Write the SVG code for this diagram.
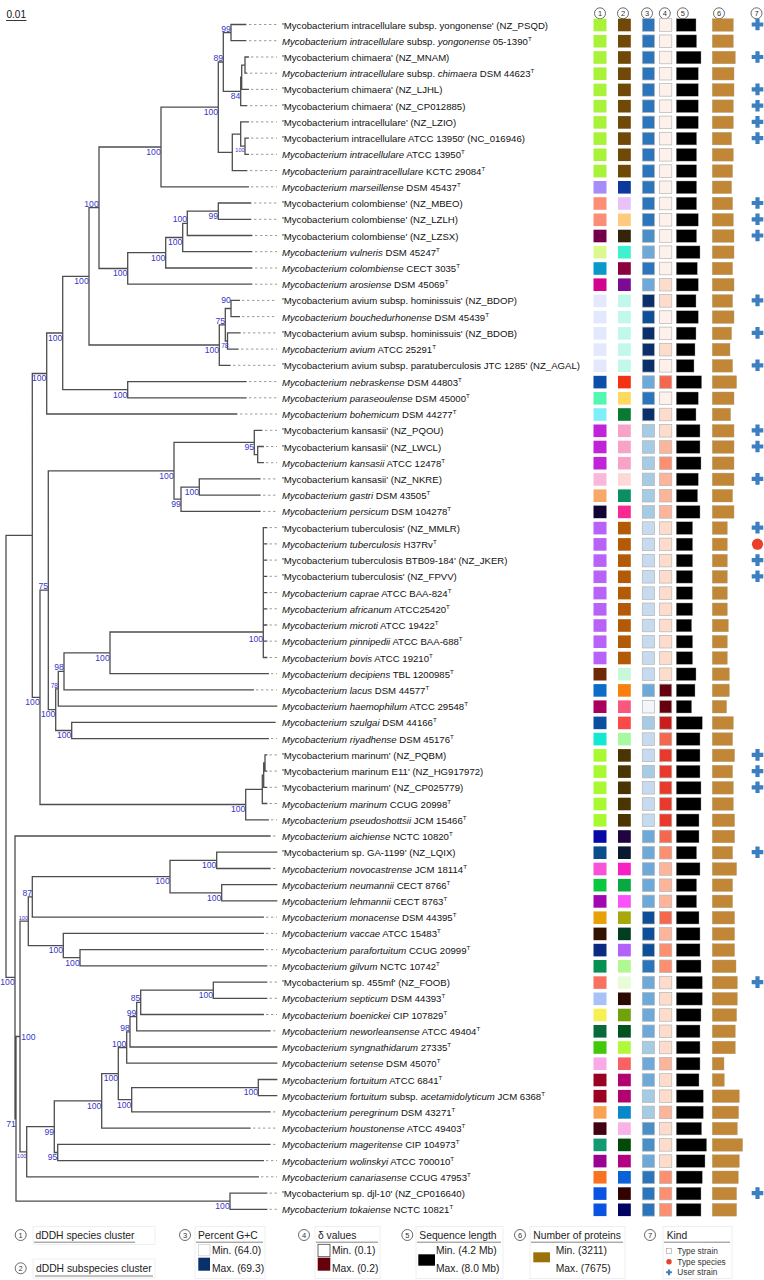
<svg xmlns="http://www.w3.org/2000/svg" xmlns:xlink="http://www.w3.org/1999/xlink" width="764" height="1280" viewBox="0 0 764 1280">
<style>
.t{font-family:"Liberation Sans",Arial,sans-serif;font-size:9.6px;fill:#111}
.i{font-style:italic}
.u{font-size:6.2px}
.d{stroke:#9a9a9a;stroke-width:1;stroke-dasharray:2.4 2.6}
.tr{fill:none;stroke:#4d4d4d;stroke-width:1.3;stroke-linecap:square}
.bs{font-family:"Liberation Sans",Arial,sans-serif;font-size:8.6px;fill:#3636c8;text-anchor:end}
.sm{font-size:5.6px}
.md{font-size:6.6px}
.c{stroke:#b4b4b4;stroke-width:0.7}
.k{fill:#000;stroke:#999;stroke-width:0.4}
.p{fill:#c18636;stroke:#b0a080;stroke-width:0.4}
.nc{fill:#fff;stroke:#444;stroke-width:0.8}
.nt{font-family:"Liberation Sans",Arial,sans-serif;font-size:7.5px;fill:#333;text-anchor:middle}
.lg{font-family:"Liberation Sans",Arial,sans-serif;font-size:10.3px;fill:#222}
.ls{font-family:"Liberation Sans",Arial,sans-serif;font-size:8.3px;fill:#333}
.lb{fill:none;stroke:#ececec;stroke-width:0.8}
.ul{stroke:#777;stroke-width:0.9}
</style>
<defs>
<path id="plus" d="M-2.1,-5.8h4.2v3.7h3.7v4.2h-3.7v3.7h-4.2v-3.7h-3.7v-4.2h3.7z" fill="#3b7fc1"/>
</defs>
<rect width="764" height="1280" fill="#fff"/>
<g id="scale"><text class="t" x="6.5" y="18.2" style="font-size:10px">0.01</text><line x1="6" y1="20.5" x2="26.5" y2="20.5" stroke="#222" stroke-width="0.9"/></g>
<g id="headers">
<circle class="nc" cx="600" cy="13.3" r="5.5"/><text class="nt" x="600" y="16">1</text>
<circle class="nc" cx="623" cy="13.3" r="5.5"/><text class="nt" x="623" y="16">2</text>
<circle class="nc" cx="647" cy="13.3" r="5.5"/><text class="nt" x="647" y="16">3</text>
<circle class="nc" cx="664.8" cy="13.3" r="5.5"/><text class="nt" x="664.8" y="16">4</text>
<circle class="nc" cx="682.8" cy="13.3" r="5.5"/><text class="nt" x="682.8" y="16">5</text>
<circle class="nc" cx="719" cy="13.3" r="5.5"/><text class="nt" x="719" y="16">6</text>
<circle class="nc" cx="756.5" cy="13.3" r="5.5"/><text class="nt" x="756.5" y="16">7</text>
</g>
<g id="connectors">
<path class="tr" d="M231,24.5V40.7M231,24.5H245.7M231,40.7H245.7
M245,57V73.2M245,57H248.3M245,73.2H246.7
M241.7,65.1V89.4M241.7,65.1H245M241.7,89.4H248.3
M240.7,77.2V105.7M240.7,77.2H241.7M240.7,105.7H246.7
M223.3,32.6V91.4M223.3,32.6H231M223.3,91.4H240.7
M245,138.1V154.3M245,138.1H248.3M245,154.3H248.3
M240.7,121.9V146.2M240.7,121.9H248.3M240.7,146.2H245
M232.3,134.1V170.6M232.3,134.1H240.7M232.3,170.6H246.7
M218.3,62V152.3M218.3,62H223.3M218.3,152.3H232.3
M161,107.2V186.8M161,107.2H218.3M161,186.8H248.3
M218.3,203V219.3M218.3,203H250.7M218.3,219.3H250.7
M187.3,211.1V235.5M187.3,211.1H218.3M187.3,235.5H251.7
M182.7,223.3V251.7M182.7,223.3H187.3M182.7,251.7H251.7
M165.7,237.5V268M165.7,237.5H182.7M165.7,268H251.7
M127.7,252.7V284.2M127.7,252.7H165.7M127.7,284.2H251.7
M99,147V268.5M99,147H161M99,268.5H127.7
M231,300.4V316.6M231,300.4H239.3M231,316.6H239.3
M227.5,332.9V349.1M227.5,332.9H240M227.5,349.1H238
M225.3,308.5V341M225.3,308.5H231M225.3,341H227.5
M219.3,324.8V365.3M219.3,324.8H225.3M219.3,365.3H230
M89,207.7V345M89,207.7H99M89,345H219.3
M127.7,381.6V397.8M127.7,381.6H246M127.7,397.8H246
M62.7,276.4V389.7M62.7,276.4H89M62.7,389.7H127.7
M46.7,333V414M46.7,333H62.7M46.7,414H236.7
M257.7,446.5V462.7M257.7,446.5H263.3M257.7,462.7H263.3
M254.3,430.3V454.6M254.3,430.3H261.7M254.3,454.6H257.7
M199.3,478.9V495.2M199.3,478.9H260M199.3,495.2H260
M181,487.1V511.4M181,487.1H199.3M181,511.4H260
M174,442.4V499.2M174,442.4H254.3M174,499.2H181
M263.3,527.6V657.5M263.3,527.6H266.7M263.3,543.9H266.7M263.3,560.1H266.7M263.3,576.3H266.7M263.3,592.6H266.7M263.3,608.8H266.7M263.3,625H266.7M263.3,641.2H266.7M263.3,657.5H266.7
M110,632V673.7M110,632H263.3M110,673.7H268.3
M64,652.9V689.9M64,652.9H110M64,689.9H253.3
M58.3,671.4V706.2M58.3,671.4H64M58.3,706.2H276.7
M71.7,722.4V738.6M71.7,722.4H275M71.7,738.6H268.3
M55.7,688.8V730.5M55.7,688.8H58.3M55.7,730.5H71.7
M48.3,470.8V709.6M48.3,470.8H174M48.3,709.6H55.7
M265,754.9V771.1M265,754.9H266.7M265,771.1H266.7
M263.7,763V787.3M263.7,763H265M263.7,787.3H266.7
M262.3,775.1V803.5M262.3,775.1H263.7M262.3,803.5H266.7
M245.7,789.3V819.8M245.7,789.3H262.3M245.7,819.8H268.3
M40,590.2V804.5M40,590.2H48.3M40,804.5H245.7
M32.3,373.5V697.4M32.3,373.5H46.7M32.3,697.4H40
M216.7,852.2V868.5M216.7,852.2H276.7M216.7,868.5H270
M221.7,884.7V900.9M221.7,884.7H276.7M221.7,900.9H276.7
M170,860.3V892.8M170,860.3H216.7M170,892.8H221.7
M32.3,876.6V917.2M32.3,876.6H170M32.3,917.2H263.3
M80,949.6V965.8M80,949.6H263.3M80,965.8H266.7
M63.3,933.4V957.7M63.3,933.4H263.3M63.3,957.7H80
M28.3,896.9V945.6M28.3,896.9H32.3M28.3,945.6H63.3
M213.3,982.1V998.3M213.3,982.1H266.7M213.3,998.3H266.7
M140.7,990.2V1014.5M140.7,990.2H213.3M140.7,1014.5H263.3
M136.7,1002.4V1030.8M136.7,1002.4H140.7M136.7,1030.8H270
M130,1016.6V1047M130,1016.6H136.7M130,1047H276.7
M126.7,1031.8V1063.2M126.7,1031.8H130M126.7,1063.2H276.7
M258.3,1079.5V1095.7M258.3,1079.5H276.7M258.3,1095.7H276.7
M131.7,1087.6V1111.9M131.7,1087.6H258.3M131.7,1111.9H270
M118.3,1047.5V1099.7M118.3,1047.5H126.7M118.3,1099.7H131.7
M101.7,1073.6V1128.1M101.7,1073.6H118.3M101.7,1128.1H250
M57.7,1144.4V1160.6M57.7,1144.4H270M57.7,1160.6H263.3
M54.3,1100.9V1152.5M54.3,1100.9H101.7M54.3,1152.5H57.7
M26.7,1126.7V1176.8M26.7,1126.7H54.3M26.7,1176.8H258.3
M20,921.2V1151.8M20,921.2H28.3M20,1151.8H26.7
M230,1193.1V1209.3M230,1193.1H266.7M230,1209.3H266.7
M16,1036.5V1201.2M16,1036.5H20M16,1201.2H230
M15,836V1118.9M15,836H270M15,1118.9H16
M6,535.4V977.4M6,535.4H32.3M6,977.4H15"/>
</g>
<g id="bootstrap">
<text class="bs" x="230.7" y="31.6">99</text>
<text class="bs" x="223" y="61">89</text>
<text class="bs" x="218" y="115">100</text>
<text class="bs" x="240.4" y="99.2">84</text>
<text class="bs sm" x="244.7" y="152.2">100</text>
<text class="bs" x="160.7" y="154.8">100</text>
<text class="bs" x="98.7" y="206.7">100</text>
<text class="bs" x="218" y="218.9">99</text>
<text class="bs" x="187" y="222.3">100</text>
<text class="bs" x="182.4" y="245.3">100</text>
<text class="bs" x="165.4" y="260.5">100</text>
<text class="bs" x="127.4" y="276.3">100</text>
<text class="bs" x="88.7" y="284.2">100</text>
<text class="bs" x="230.7" y="303">90</text>
<text class="bs" x="225" y="323.8">75</text>
<text class="bs md" x="228.5" y="347.5">78</text>
<text class="bs" x="219" y="352.8">100</text>
<text class="bs" x="62.4" y="340.8">100</text>
<text class="bs" x="127.4" y="397.5">100</text>
<text class="bs" x="46.4" y="381.3">100</text>
<text class="bs" x="254" y="450.2">95</text>
<text class="bs" x="199" y="494.9">100</text>
<text class="bs" x="180.7" y="507">99</text>
<text class="bs" x="173.7" y="478.6">100</text>
<text class="bs" x="48" y="589.2">75</text>
<text class="bs" x="263" y="642">100</text>
<text class="bs" x="109.7" y="660.7">100</text>
<text class="bs" x="63.7" y="670.4">98</text>
<text class="bs md" x="58" y="687.8">78</text>
<text class="bs" x="39.7" y="705.2">100</text>
<text class="bs" x="55.4" y="717.4">100</text>
<text class="bs" x="71.4" y="738.3">100</text>
<text class="bs" x="245.4" y="812.3">100</text>
<text class="bs" x="216.4" y="868.1">100</text>
<text class="bs" x="169.7" y="884.4">100</text>
<text class="bs" x="221.4" y="900.6">100</text>
<text class="bs" x="32" y="895.9">87</text>
<text class="bs sm" x="28" y="920.2">100</text>
<text class="bs" x="63" y="953.4">100</text>
<text class="bs" x="79.7" y="965.5">100</text>
<text class="bs" x="14.7" y="985.2">100</text>
<text class="bs" x="213" y="998">100</text>
<text class="bs" x="140.4" y="1001.4">85</text>
<text class="bs" x="136.4" y="1015.6">99</text>
<text class="bs" x="129.7" y="1030.8">98</text>
<text class="bs" x="126.4" y="1046.5">100</text>
<text class="bs" x="35.5" y="1040">100</text>
<text class="bs" x="118" y="1081.4">100</text>
<text class="bs" x="258" y="1095.4">100</text>
<text class="bs" x="131.4" y="1107.5">100</text>
<text class="bs" x="101.4" y="1108.7">100</text>
<text class="bs" x="15.7" y="1126.7">71</text>
<text class="bs" x="54" y="1134.5">99</text>
<text class="bs sm" x="26.4" y="1157.8">100</text>
<text class="bs" x="57.4" y="1160.3">95</text>
<text class="bs" x="229.7" y="1209">100</text>
</g>
<g id="r1" transform="translate(0,24.5)"><line class="d" x1="249" x2="277"/><text class="t" x="282" y="4">'Mycobacterium intracellulare subsp. yongonense' (NZ_PSQD)</text><rect x="593.5" y="-5.8" width="13" height="12.6" fill="#a8f23a"/><rect x="618" y="-5.8" width="12.8" height="12.6" fill="#704808"/><rect class="c" x="642.3" y="-5.8" width="12.2" height="12.6" fill="#2b75bd"/><rect class="c" x="659.6" y="-5.8" width="12.2" height="12.6" fill="#fef0ea"/><rect class="k" x="676.3" y="-5.8" width="19.7" height="12.6"/><rect class="p" x="712.3" y="-5.8" width="21" height="12.6"/><use xlink:href="#plus" x="757.5"/></g>
<g id="r2" transform="translate(0,40.7)"><line class="d" x1="249" x2="277"/><text class="t" x="282" y="4"><tspan class="i">Mycobacterium intracellulare</tspan> subsp. <tspan class="i">yongonense</tspan> 05-1390<tspan class="u" dy="-4">T</tspan></text><rect x="593.5" y="-5.8" width="13" height="12.6" fill="#a8f23a"/><rect x="618" y="-5.8" width="12.8" height="12.6" fill="#704808"/><rect class="c" x="642.3" y="-5.8" width="12.2" height="12.6" fill="#2b75bd"/><rect class="c" x="659.6" y="-5.8" width="12.2" height="12.6" fill="#fef0ea"/><rect class="k" x="676.3" y="-5.8" width="20.3" height="12.6"/><rect class="p" x="712.3" y="-5.8" width="21" height="12.6"/></g>
<g id="r3" transform="translate(0,57)"><line class="d" x1="251" x2="277"/><text class="t" x="282" y="4">'Mycobacterium chimaera' (NZ_MNAM)</text><rect x="593.5" y="-5.8" width="13" height="12.6" fill="#a8f23a"/><rect x="618" y="-5.8" width="12.8" height="12.6" fill="#704808"/><rect class="c" x="642.3" y="-5.8" width="12.2" height="12.6" fill="#2b75bd"/><rect class="c" x="659.6" y="-5.8" width="12.2" height="12.6" fill="#fef0ea"/><rect class="k" x="676.3" y="-5.8" width="24.7" height="12.6"/><rect class="p" x="712.3" y="-5.8" width="23" height="12.6"/><use xlink:href="#plus" x="757.5"/></g>
<g id="r4" transform="translate(0,73.2)"><line class="d" x1="250" x2="277"/><text class="t" x="282" y="4"><tspan class="i">Mycobacterium intracellulare</tspan> subsp. <tspan class="i">chimaera</tspan> DSM 44623<tspan class="u" dy="-4">T</tspan></text><rect x="593.5" y="-5.8" width="13" height="12.6" fill="#a8f23a"/><rect x="618" y="-5.8" width="12.8" height="12.6" fill="#704808"/><rect class="c" x="642.3" y="-5.8" width="12.2" height="12.6" fill="#2b75bd"/><rect class="c" x="659.6" y="-5.8" width="12.2" height="12.6" fill="#fef0ea"/><rect class="k" x="676.3" y="-5.8" width="22" height="12.6"/><rect class="p" x="712.3" y="-5.8" width="21.7" height="12.6"/></g>
<g id="r5" transform="translate(0,89.4)"><line class="d" x1="251" x2="277"/><text class="t" x="282" y="4">'Mycobacterium chimaera' (NZ_LJHL)</text><rect x="593.5" y="-5.8" width="13" height="12.6" fill="#a8f23a"/><rect x="618" y="-5.8" width="12.8" height="12.6" fill="#704808"/><rect class="c" x="642.3" y="-5.8" width="12.2" height="12.6" fill="#2b75bd"/><rect class="c" x="659.6" y="-5.8" width="12.2" height="12.6" fill="#fef0ea"/><rect class="k" x="676.3" y="-5.8" width="22" height="12.6"/><rect class="p" x="712.3" y="-5.8" width="21.7" height="12.6"/><use xlink:href="#plus" x="757.5"/></g>
<g id="r6" transform="translate(0,105.7)"><line class="d" x1="250" x2="277"/><text class="t" x="282" y="4">'Mycobacterium chimaera' (NZ_CP012885)</text><rect x="593.5" y="-5.8" width="13" height="12.6" fill="#a8f23a"/><rect x="618" y="-5.8" width="12.8" height="12.6" fill="#704808"/><rect class="c" x="642.3" y="-5.8" width="12.2" height="12.6" fill="#2b75bd"/><rect class="c" x="659.6" y="-5.8" width="12.2" height="12.6" fill="#fef0ea"/><rect class="k" x="676.3" y="-5.8" width="22" height="12.6"/><rect class="p" x="712.3" y="-5.8" width="21" height="12.6"/><use xlink:href="#plus" x="757.5"/></g>
<g id="r7" transform="translate(0,121.9)"><line class="d" x1="251" x2="277"/><text class="t" x="282" y="4">'Mycobacterium intracellulare' (NZ_LZIO)</text><rect x="593.5" y="-5.8" width="13" height="12.6" fill="#a8f23a"/><rect x="618" y="-5.8" width="12.8" height="12.6" fill="#704808"/><rect class="c" x="642.3" y="-5.8" width="12.2" height="12.6" fill="#2b75bd"/><rect class="c" x="659.6" y="-5.8" width="12.2" height="12.6" fill="#fef0ea"/><rect class="k" x="676.3" y="-5.8" width="22" height="12.6"/><rect class="p" x="712.3" y="-5.8" width="21" height="12.6"/><use xlink:href="#plus" x="757.5"/></g>
<g id="r8" transform="translate(0,138.1)"><line class="d" x1="251" x2="277"/><text class="t" x="282" y="4">'Mycobacterium intracellulare ATCC 13950' (NC_016946)</text><rect x="593.5" y="-5.8" width="13" height="12.6" fill="#a8f23a"/><rect x="618" y="-5.8" width="12.8" height="12.6" fill="#704808"/><rect class="c" x="642.3" y="-5.8" width="12.2" height="12.6" fill="#2b75bd"/><rect class="c" x="659.6" y="-5.8" width="12.2" height="12.6" fill="#fef0ea"/><rect class="k" x="676.3" y="-5.8" width="20.3" height="12.6"/><rect class="p" x="712.3" y="-5.8" width="19.3" height="12.6"/><use xlink:href="#plus" x="757.5"/></g>
<g id="r9" transform="translate(0,154.3)"><line class="d" x1="251" x2="277"/><text class="t" x="282" y="4"><tspan class="i">Mycobacterium intracellulare</tspan> ATCC 13950<tspan class="u" dy="-4">T</tspan></text><rect x="593.5" y="-5.8" width="13" height="12.6" fill="#a8f23a"/><rect x="618" y="-5.8" width="12.8" height="12.6" fill="#704808"/><rect class="c" x="642.3" y="-5.8" width="12.2" height="12.6" fill="#2b75bd"/><rect class="c" x="659.6" y="-5.8" width="12.2" height="12.6" fill="#fef0ea"/><rect class="k" x="676.3" y="-5.8" width="20.3" height="12.6"/><rect class="p" x="712.3" y="-5.8" width="21" height="12.6"/></g>
<g id="r10" transform="translate(0,170.6)"><line class="d" x1="250" x2="277"/><text class="t" x="282" y="4"><tspan class="i">Mycobacterium paraintracellulare</tspan> KCTC 29084<tspan class="u" dy="-4">T</tspan></text><rect x="593.5" y="-5.8" width="13" height="12.6" fill="#a8f23a"/><rect x="618" y="-5.8" width="12.8" height="12.6" fill="#704808"/><rect class="c" x="642.3" y="-5.8" width="12.2" height="12.6" fill="#2b75bd"/><rect class="c" x="659.6" y="-5.8" width="12.2" height="12.6" fill="#fef0ea"/><rect class="k" x="676.3" y="-5.8" width="20.3" height="12.6"/><rect class="p" x="712.3" y="-5.8" width="20.3" height="12.6"/></g>
<g id="r11" transform="translate(0,186.8)"><line class="d" x1="251" x2="277"/><text class="t" x="282" y="4"><tspan class="i">Mycobacterium marseillense</tspan> DSM 45437<tspan class="u" dy="-4">T</tspan></text><rect x="593.5" y="-5.8" width="13" height="12.6" fill="#a58cf8"/><rect x="618" y="-5.8" width="12.8" height="12.6" fill="#0b3a9c"/><rect class="c" x="642.3" y="-5.8" width="12.2" height="12.6" fill="#2b75bd"/><rect class="c" x="659.6" y="-5.8" width="12.2" height="12.6" fill="#fef0ea"/><rect class="k" x="676.3" y="-5.8" width="20.3" height="12.6"/><rect class="p" x="712.3" y="-5.8" width="19.3" height="12.6"/></g>
<g id="r12" transform="translate(0,203)"><line class="d" x1="254" x2="277"/><text class="t" x="282" y="4">'Mycobacterium colombiense' (NZ_MBEO)</text><rect x="593.5" y="-5.8" width="13" height="12.6" fill="#fb8e74"/><rect x="618" y="-5.8" width="12.8" height="12.6" fill="#e8c2f8"/><rect class="c" x="642.3" y="-5.8" width="12.2" height="12.6" fill="#2b75bd"/><rect class="c" x="659.6" y="-5.8" width="12.2" height="12.6" fill="#fef0ea"/><rect class="k" x="676.3" y="-5.8" width="20.3" height="12.6"/><rect class="p" x="712.3" y="-5.8" width="20.3" height="12.6"/><use xlink:href="#plus" x="757.5"/></g>
<g id="r13" transform="translate(0,219.3)"><line class="d" x1="254" x2="277"/><text class="t" x="282" y="4">'Mycobacterium colombiense' (NZ_LZLH)</text><rect x="593.5" y="-5.8" width="13" height="12.6" fill="#fb8e74"/><rect x="618" y="-5.8" width="12.8" height="12.6" fill="#fecb7e"/><rect class="c" x="642.3" y="-5.8" width="12.2" height="12.6" fill="#2b75bd"/><rect class="c" x="659.6" y="-5.8" width="12.2" height="12.6" fill="#fef0ea"/><rect class="k" x="676.3" y="-5.8" width="22" height="12.6"/><rect class="p" x="712.3" y="-5.8" width="21" height="12.6"/><use xlink:href="#plus" x="757.5"/></g>
<g id="r14" transform="translate(0,235.5)"><line class="d" x1="255" x2="277"/><text class="t" x="282" y="4">'Mycobacterium colombiense' (NZ_LZSX)</text><rect x="593.5" y="-5.8" width="13" height="12.6" fill="#74004c"/><rect x="618" y="-5.8" width="12.8" height="12.6" fill="#34250a"/><rect class="c" x="642.3" y="-5.8" width="12.2" height="12.6" fill="#4a90c8"/><rect class="c" x="659.6" y="-5.8" width="12.2" height="12.6" fill="#fef0ea"/><rect class="k" x="676.3" y="-5.8" width="20.3" height="12.6"/><rect class="p" x="712.3" y="-5.8" width="21.7" height="12.6"/><use xlink:href="#plus" x="757.5"/></g>
<g id="r15" transform="translate(0,251.7)"><line class="d" x1="255" x2="277"/><text class="t" x="282" y="4"><tspan class="i">Mycobacterium vulneris</tspan> DSM 45247<tspan class="u" dy="-4">T</tspan></text><rect x="593.5" y="-5.8" width="13" height="12.6" fill="#dbf98e"/><rect x="618" y="-5.8" width="12.8" height="12.6" fill="#3ef2d0"/><rect class="c" x="642.3" y="-5.8" width="12.2" height="12.6" fill="#6eaad9"/><rect class="c" x="659.6" y="-5.8" width="12.2" height="12.6" fill="#fef0ea"/><rect class="k" x="676.3" y="-5.8" width="23.7" height="12.6"/><rect class="p" x="712.3" y="-5.8" width="21.7" height="12.6"/></g>
<g id="r16" transform="translate(0,268)"><line class="d" x1="255" x2="277"/><text class="t" x="282" y="4"><tspan class="i">Mycobacterium colombiense</tspan> CECT 3035<tspan class="u" dy="-4">T</tspan></text><rect x="593.5" y="-5.8" width="13" height="12.6" fill="#0998c9"/><rect x="618" y="-5.8" width="12.8" height="12.6" fill="#8c003f"/><rect class="c" x="642.3" y="-5.8" width="12.2" height="12.6" fill="#2b75bd"/><rect class="c" x="659.6" y="-5.8" width="12.2" height="12.6" fill="#fef0ea"/><rect class="k" x="676.3" y="-5.8" width="21" height="12.6"/><rect class="p" x="712.3" y="-5.8" width="20.3" height="12.6"/></g>
<g id="r17" transform="translate(0,284.2)"><line class="d" x1="255" x2="277"/><text class="t" x="282" y="4"><tspan class="i">Mycobacterium arosiense</tspan> DSM 45069<tspan class="u" dy="-4">T</tspan></text><rect x="593.5" y="-5.8" width="13" height="12.6" fill="#d2038e"/><rect x="618" y="-5.8" width="12.8" height="12.6" fill="#7b0a94"/><rect class="c" x="642.3" y="-5.8" width="12.2" height="12.6" fill="#6eaad9"/><rect class="c" x="659.6" y="-5.8" width="12.2" height="12.6" fill="#fddccb"/><rect class="k" x="676.3" y="-5.8" width="22" height="12.6"/><rect class="p" x="712.3" y="-5.8" width="21.7" height="12.6"/></g>
<g id="r18" transform="translate(0,300.4)"><line class="d" x1="242" x2="277"/><text class="t" x="282" y="4">'Mycobacterium avium subsp. hominissuis' (NZ_BDOP)</text><rect x="593.5" y="-5.8" width="13" height="12.6" fill="#e4e8fc"/><rect x="618" y="-5.8" width="12.8" height="12.6" fill="#c2f8ea"/><rect class="c" x="642.3" y="-5.8" width="12.2" height="12.6" fill="#0b2f6b"/><rect class="c" x="659.6" y="-5.8" width="12.2" height="12.6" fill="#fddccb"/><rect class="k" x="676.3" y="-5.8" width="19.7" height="12.6"/><rect class="p" x="712.3" y="-5.8" width="20.3" height="12.6"/><use xlink:href="#plus" x="757.5"/></g>
<g id="r19" transform="translate(0,316.6)"><line class="d" x1="242" x2="277"/><text class="t" x="282" y="4"><tspan class="i">Mycobacterium bouchedurhonense</tspan> DSM 45439<tspan class="u" dy="-4">T</tspan></text><rect x="593.5" y="-5.8" width="13" height="12.6" fill="#e4e8fc"/><rect x="618" y="-5.8" width="12.8" height="12.6" fill="#c2f8ea"/><rect class="c" x="642.3" y="-5.8" width="12.2" height="12.6" fill="#0e4f9a"/><rect class="c" x="659.6" y="-5.8" width="12.2" height="12.6" fill="#fef0ea"/><rect class="k" x="676.3" y="-5.8" width="22" height="12.6"/><rect class="p" x="712.3" y="-5.8" width="21.7" height="12.6"/></g>
<g id="r20" transform="translate(0,332.9)"><line class="d" x1="243" x2="277"/><text class="t" x="282" y="4">'Mycobacterium avium subsp. hominissuis' (NZ_BDOB)</text><rect x="593.5" y="-5.8" width="13" height="12.6" fill="#e4e8fc"/><rect x="618" y="-5.8" width="12.8" height="12.6" fill="#c2f8ea"/><rect class="c" x="642.3" y="-5.8" width="12.2" height="12.6" fill="#0b2f6b"/><rect class="c" x="659.6" y="-5.8" width="12.2" height="12.6" fill="#fef0ea"/><rect class="k" x="676.3" y="-5.8" width="19.7" height="12.6"/><rect class="p" x="712.3" y="-5.8" width="19.3" height="12.6"/><use xlink:href="#plus" x="757.5"/></g>
<g id="r21" transform="translate(0,349.1)"><line class="d" x1="241" x2="277"/><text class="t" x="282" y="4"><tspan class="i">Mycobacterium avium</tspan> ATCC 25291<tspan class="u" dy="-4">T</tspan></text><rect x="593.5" y="-5.8" width="13" height="12.6" fill="#e4e8fc"/><rect x="618" y="-5.8" width="12.8" height="12.6" fill="#c2f8ea"/><rect class="c" x="642.3" y="-5.8" width="12.2" height="12.6" fill="#0b2f6b"/><rect class="c" x="659.6" y="-5.8" width="12.2" height="12.6" fill="#fddccb"/><rect class="k" x="676.3" y="-5.8" width="18.7" height="12.6"/><rect class="p" x="712.3" y="-5.8" width="17.7" height="12.6"/></g>
<g id="r22" transform="translate(0,365.3)"><line class="d" x1="233" x2="277"/><text class="t" x="282" y="4">'Mycobacterium avium subsp. paratuberculosis JTC 1285' (NZ_AGAL)</text><rect x="593.5" y="-5.8" width="13" height="12.6" fill="#e4e8fc"/><rect x="618" y="-5.8" width="12.8" height="12.6" fill="#c2f8ea"/><rect class="c" x="642.3" y="-5.8" width="12.2" height="12.6" fill="#0b2f6b"/><rect class="c" x="659.6" y="-5.8" width="12.2" height="12.6" fill="#fef0ea"/><rect class="k" x="676.3" y="-5.8" width="17.7" height="12.6"/><rect class="p" x="712.3" y="-5.8" width="20.3" height="12.6"/><use xlink:href="#plus" x="757.5"/></g>
<g id="r23" transform="translate(0,381.6)"><line class="d" x1="249" x2="277"/><text class="t" x="282" y="4"><tspan class="i">Mycobacterium nebraskense</tspan> DSM 44803<tspan class="u" dy="-4">T</tspan></text><rect x="593.5" y="-5.8" width="13" height="12.6" fill="#0b4fa8"/><rect x="618" y="-5.8" width="12.8" height="12.6" fill="#f23212"/><rect class="c" x="642.3" y="-5.8" width="12.2" height="12.6" fill="#6eaad9"/><rect class="c" x="659.6" y="-5.8" width="12.2" height="12.6" fill="#f6684e"/><rect class="k" x="676.3" y="-5.8" width="25.3" height="12.6"/><rect class="p" x="712.3" y="-5.8" width="24.3" height="12.6"/></g>
<g id="r24" transform="translate(0,397.8)"><line class="d" x1="249" x2="277"/><text class="t" x="282" y="4"><tspan class="i">Mycobacterium paraseoulense</tspan> DSM 45000<tspan class="u" dy="-4">T</tspan></text><rect x="593.5" y="-5.8" width="13" height="12.6" fill="#52f8b0"/><rect x="618" y="-5.8" width="12.8" height="12.6" fill="#ffd85e"/><rect class="c" x="642.3" y="-5.8" width="12.2" height="12.6" fill="#2b75bd"/><rect class="c" x="659.6" y="-5.8" width="12.2" height="12.6" fill="#fef0ea"/><rect class="k" x="676.3" y="-5.8" width="22" height="12.6"/><rect class="p" x="712.3" y="-5.8" width="21.7" height="12.6"/></g>
<g id="r25" transform="translate(0,414)"><line class="d" x1="240" x2="277"/><text class="t" x="282" y="4"><tspan class="i">Mycobacterium bohemicum</tspan> DSM 44277<tspan class="u" dy="-4">T</tspan></text><rect x="593.5" y="-5.8" width="13" height="12.6" fill="#80eef8"/><rect x="618" y="-5.8" width="12.8" height="12.6" fill="#087a32"/><rect class="c" x="642.3" y="-5.8" width="12.2" height="12.6" fill="#0b2f6b"/><rect class="c" x="659.6" y="-5.8" width="12.2" height="12.6" fill="#fddccb"/><rect class="k" x="676.3" y="-5.8" width="19.7" height="12.6"/><rect class="p" x="712.3" y="-5.8" width="18.3" height="12.6"/></g>
<g id="r26" transform="translate(0,430.3)"><line class="d" x1="265" x2="277"/><text class="t" x="282" y="4">'Mycobacterium kansasii' (NZ_PQOU)</text><rect x="593.5" y="-5.8" width="13" height="12.6" fill="#c023d8"/><rect x="618" y="-5.8" width="12.8" height="12.6" fill="#f8a2c8"/><rect class="c" x="642.3" y="-5.8" width="12.2" height="12.6" fill="#a6cbe4"/><rect class="c" x="659.6" y="-5.8" width="12.2" height="12.6" fill="#fddccb"/><rect class="k" x="676.3" y="-5.8" width="23.7" height="12.6"/><rect class="p" x="712.3" y="-5.8" width="21.7" height="12.6"/><use xlink:href="#plus" x="757.5"/></g>
<g id="r27" transform="translate(0,446.5)"><line class="d" x1="266" x2="277"/><text class="t" x="282" y="4">'Mycobacterium kansasii' (NZ_LWCL)</text><rect x="593.5" y="-5.8" width="13" height="12.6" fill="#c023d8"/><rect x="618" y="-5.8" width="12.8" height="12.6" fill="#f8a2c8"/><rect class="c" x="642.3" y="-5.8" width="12.2" height="12.6" fill="#a6cbe4"/><rect class="c" x="659.6" y="-5.8" width="12.2" height="12.6" fill="#fcb49a"/><rect class="k" x="676.3" y="-5.8" width="23.7" height="12.6"/><rect class="p" x="712.3" y="-5.8" width="21.7" height="12.6"/><use xlink:href="#plus" x="757.5"/></g>
<g id="r28" transform="translate(0,462.7)"><line class="d" x1="266" x2="277"/><text class="t" x="282" y="4"><tspan class="i">Mycobacterium kansasii</tspan> ATCC 12478<tspan class="u" dy="-4">T</tspan></text><rect x="593.5" y="-5.8" width="13" height="12.6" fill="#c023d8"/><rect x="618" y="-5.8" width="12.8" height="12.6" fill="#f8a2c8"/><rect class="c" x="642.3" y="-5.8" width="12.2" height="12.6" fill="#a6cbe4"/><rect class="c" x="659.6" y="-5.8" width="12.2" height="12.6" fill="#fb8f70"/><rect class="k" x="676.3" y="-5.8" width="24.7" height="12.6"/><rect class="p" x="712.3" y="-5.8" width="21.7" height="12.6"/></g>
<g id="r29" transform="translate(0,478.9)"><line class="d" x1="263" x2="277"/><text class="t" x="282" y="4">'Mycobacterium kansasii' (NZ_NKRE)</text><rect x="593.5" y="-5.8" width="13" height="12.6" fill="#f8b8dc"/><rect x="618" y="-5.8" width="12.8" height="12.6" fill="#fcd8d8"/><rect class="c" x="642.3" y="-5.8" width="12.2" height="12.6" fill="#a6cbe4"/><rect class="c" x="659.6" y="-5.8" width="12.2" height="12.6" fill="#fcb49a"/><rect class="k" x="676.3" y="-5.8" width="22" height="12.6"/><rect class="p" x="712.3" y="-5.8" width="21.7" height="12.6"/><use xlink:href="#plus" x="757.5"/></g>
<g id="r30" transform="translate(0,495.2)"><line class="d" x1="263" x2="277"/><text class="t" x="282" y="4"><tspan class="i">Mycobacterium gastri</tspan> DSM 43505<tspan class="u" dy="-4">T</tspan></text><rect x="593.5" y="-5.8" width="13" height="12.6" fill="#f8a868"/><rect x="618" y="-5.8" width="12.8" height="12.6" fill="#0a9060"/><rect class="c" x="642.3" y="-5.8" width="12.2" height="12.6" fill="#a6cbe4"/><rect class="c" x="659.6" y="-5.8" width="12.2" height="12.6" fill="#fcb49a"/><rect class="k" x="676.3" y="-5.8" width="21.3" height="12.6"/><rect class="p" x="712.3" y="-5.8" width="20.3" height="12.6"/></g>
<g id="r31" transform="translate(0,511.4)"><line class="d" x1="263" x2="277"/><text class="t" x="282" y="4"><tspan class="i">Mycobacterium persicum</tspan> DSM 104278<tspan class="u" dy="-4">T</tspan></text><rect x="593.5" y="-5.8" width="13" height="12.6" fill="#120432"/><rect x="618" y="-5.8" width="12.8" height="12.6" fill="#f82a92"/><rect class="c" x="642.3" y="-5.8" width="12.2" height="12.6" fill="#a6cbe4"/><rect class="c" x="659.6" y="-5.8" width="12.2" height="12.6" fill="#fcb49a"/><rect class="k" x="676.3" y="-5.8" width="23.7" height="12.6"/><rect class="p" x="712.3" y="-5.8" width="21.7" height="12.6"/></g>
<g id="r32" transform="translate(0,527.6)"><line class="d" x1="269.5" x2="277"/><text class="t" x="282" y="4">'Mycobacterium tuberculosis' (NZ_MMLR)</text><rect x="593.5" y="-5.8" width="13" height="12.6" fill="#b862f8"/><rect x="618" y="-5.8" width="12.8" height="12.6" fill="#b25a05"/><rect class="c" x="642.3" y="-5.8" width="12.2" height="12.6" fill="#c6dbef"/><rect class="c" x="659.6" y="-5.8" width="12.2" height="12.6" fill="#fddccb"/><rect class="k" x="676.3" y="-5.8" width="16.3" height="12.6"/><rect class="p" x="712.3" y="-5.8" width="15" height="12.6"/><use xlink:href="#plus" x="757.5"/></g>
<g id="r33" transform="translate(0,543.9)"><line class="d" x1="269.5" x2="277"/><text class="t" x="282" y="4"><tspan class="i">Mycobacterium tuberculosis</tspan> H37Rv<tspan class="u" dy="-4">T</tspan></text><rect x="593.5" y="-5.8" width="13" height="12.6" fill="#b862f8"/><rect x="618" y="-5.8" width="12.8" height="12.6" fill="#b25a05"/><rect class="c" x="642.3" y="-5.8" width="12.2" height="12.6" fill="#c6dbef"/><rect class="c" x="659.6" y="-5.8" width="12.2" height="12.6" fill="#fddccb"/><rect class="k" x="676.3" y="-5.8" width="16.3" height="12.6"/><rect class="p" x="712.3" y="-5.8" width="15" height="12.6"/><circle cx="757.5" cy="0.3" r="5.6" fill="#e8402a"/></g>
<g id="r34" transform="translate(0,560.1)"><line class="d" x1="269.5" x2="277"/><text class="t" x="282" y="4">'Mycobacterium tuberculosis BTB09-184' (NZ_JKER)</text><rect x="593.5" y="-5.8" width="13" height="12.6" fill="#b862f8"/><rect x="618" y="-5.8" width="12.8" height="12.6" fill="#b25a05"/><rect class="c" x="642.3" y="-5.8" width="12.2" height="12.6" fill="#c6dbef"/><rect class="c" x="659.6" y="-5.8" width="12.2" height="12.6" fill="#fddccb"/><rect class="k" x="676.3" y="-5.8" width="16.3" height="12.6"/><rect class="p" x="712.3" y="-5.8" width="15" height="12.6"/><use xlink:href="#plus" x="757.5"/></g>
<g id="r35" transform="translate(0,576.3)"><line class="d" x1="269.5" x2="277"/><text class="t" x="282" y="4">'Mycobacterium tuberculosis' (NZ_FPVV)</text><rect x="593.5" y="-5.8" width="13" height="12.6" fill="#b862f8"/><rect x="618" y="-5.8" width="12.8" height="12.6" fill="#b25a05"/><rect class="c" x="642.3" y="-5.8" width="12.2" height="12.6" fill="#c6dbef"/><rect class="c" x="659.6" y="-5.8" width="12.2" height="12.6" fill="#fddccb"/><rect class="k" x="676.3" y="-5.8" width="16.3" height="12.6"/><rect class="p" x="712.3" y="-5.8" width="15" height="12.6"/><use xlink:href="#plus" x="757.5"/></g>
<g id="r36" transform="translate(0,592.6)"><line class="d" x1="269.5" x2="277"/><text class="t" x="282" y="4"><tspan class="i">Mycobacterium caprae</tspan> ATCC BAA-824<tspan class="u" dy="-4">T</tspan></text><rect x="593.5" y="-5.8" width="13" height="12.6" fill="#b862f8"/><rect x="618" y="-5.8" width="12.8" height="12.6" fill="#b25a05"/><rect class="c" x="642.3" y="-5.8" width="12.2" height="12.6" fill="#c6dbef"/><rect class="c" x="659.6" y="-5.8" width="12.2" height="12.6" fill="#fddccb"/><rect class="k" x="676.3" y="-5.8" width="16.3" height="12.6"/><rect class="p" x="712.3" y="-5.8" width="15" height="12.6"/></g>
<g id="r37" transform="translate(0,608.8)"><line class="d" x1="269.5" x2="277"/><text class="t" x="282" y="4"><tspan class="i">Mycobacterium africanum</tspan> ATCC25420<tspan class="u" dy="-4">T</tspan></text><rect x="593.5" y="-5.8" width="13" height="12.6" fill="#b862f8"/><rect x="618" y="-5.8" width="12.8" height="12.6" fill="#b25a05"/><rect class="c" x="642.3" y="-5.8" width="12.2" height="12.6" fill="#c6dbef"/><rect class="c" x="659.6" y="-5.8" width="12.2" height="12.6" fill="#fddccb"/><rect class="k" x="676.3" y="-5.8" width="16.3" height="12.6"/><rect class="p" x="712.3" y="-5.8" width="15" height="12.6"/></g>
<g id="r38" transform="translate(0,625)"><line class="d" x1="269.5" x2="277"/><text class="t" x="282" y="4"><tspan class="i">Mycobacterium microti</tspan> ATCC 19422<tspan class="u" dy="-4">T</tspan></text><rect x="593.5" y="-5.8" width="13" height="12.6" fill="#b862f8"/><rect x="618" y="-5.8" width="12.8" height="12.6" fill="#b25a05"/><rect class="c" x="642.3" y="-5.8" width="12.2" height="12.6" fill="#c6dbef"/><rect class="c" x="659.6" y="-5.8" width="12.2" height="12.6" fill="#fddccb"/><rect class="k" x="676.3" y="-5.8" width="15.3" height="12.6"/><rect class="p" x="712.3" y="-5.8" width="16" height="12.6"/></g>
<g id="r39" transform="translate(0,641.2)"><line class="d" x1="269.5" x2="277"/><text class="t" x="282" y="4"><tspan class="i">Mycobacterium pinnipedii</tspan> ATCC BAA-688<tspan class="u" dy="-4">T</tspan></text><rect x="593.5" y="-5.8" width="13" height="12.6" fill="#b862f8"/><rect x="618" y="-5.8" width="12.8" height="12.6" fill="#b25a05"/><rect class="c" x="642.3" y="-5.8" width="12.2" height="12.6" fill="#c6dbef"/><rect class="c" x="659.6" y="-5.8" width="12.2" height="12.6" fill="#fddccb"/><rect class="k" x="676.3" y="-5.8" width="16.3" height="12.6"/><rect class="p" x="712.3" y="-5.8" width="15" height="12.6"/></g>
<g id="r40" transform="translate(0,657.5)"><line class="d" x1="269.5" x2="277"/><text class="t" x="282" y="4"><tspan class="i">Mycobacterium bovis</tspan> ATCC 19210<tspan class="u" dy="-4">T</tspan></text><rect x="593.5" y="-5.8" width="13" height="12.6" fill="#b862f8"/><rect x="618" y="-5.8" width="12.8" height="12.6" fill="#b25a05"/><rect class="c" x="642.3" y="-5.8" width="12.2" height="12.6" fill="#c6dbef"/><rect class="c" x="659.6" y="-5.8" width="12.2" height="12.6" fill="#fddccb"/><rect class="k" x="676.3" y="-5.8" width="16.3" height="12.6"/><rect class="p" x="712.3" y="-5.8" width="15" height="12.6"/></g>
<g id="r41" transform="translate(0,673.7)"><line class="d" x1="271" x2="277"/><text class="t" x="282" y="4"><tspan class="i">Mycobacterium decipiens</tspan> TBL 1200985<tspan class="u" dy="-4">T</tspan></text><rect x="593.5" y="-5.8" width="13" height="12.6" fill="#6e2a06"/><rect x="618" y="-5.8" width="12.8" height="12.6" fill="#c8f8d8"/><rect class="c" x="642.3" y="-5.8" width="12.2" height="12.6" fill="#c6dbef"/><rect class="c" x="659.6" y="-5.8" width="12.2" height="12.6" fill="#fddccb"/><rect class="k" x="676.3" y="-5.8" width="19.7" height="12.6"/><rect class="p" x="712.3" y="-5.8" width="17" height="12.6"/></g>
<g id="r42" transform="translate(0,689.9)"><line class="d" x1="256" x2="277"/><text class="t" x="282" y="4"><tspan class="i">Mycobacterium lacus</tspan> DSM 44577<tspan class="u" dy="-4">T</tspan></text><rect x="593.5" y="-5.8" width="13" height="12.6" fill="#0a6ec8"/><rect x="618" y="-5.8" width="12.8" height="12.6" fill="#f8800e"/><rect class="c" x="642.3" y="-5.8" width="12.2" height="12.6" fill="#6eaad9"/><rect class="c" x="659.6" y="-5.8" width="12.2" height="12.6" fill="#67000d"/><rect class="k" x="676.3" y="-5.8" width="18.7" height="12.6"/><rect class="p" x="712.3" y="-5.8" width="17" height="12.6"/></g>
<g id="r43" transform="translate(0,706.2)"><text class="t" x="282" y="4"><tspan class="i">Mycobacterium haemophilum</tspan> ATCC 29548<tspan class="u" dy="-4">T</tspan></text><rect x="593.5" y="-5.8" width="13" height="12.6" fill="#a8005e"/><rect x="618" y="-5.8" width="12.8" height="12.6" fill="#f8587e"/><rect class="c" x="642.3" y="-5.8" width="12.2" height="12.6" fill="#f2f6fb"/><rect class="c" x="659.6" y="-5.8" width="12.2" height="12.6" fill="#67000d"/><rect class="k" x="676.3" y="-5.8" width="15.3" height="12.6"/><rect class="p" x="712.3" y="-5.8" width="14.3" height="12.6"/></g>
<g id="r44" transform="translate(0,722.4)"><text class="t" x="282" y="4"><tspan class="i">Mycobacterium szulgai</tspan> DSM 44166<tspan class="u" dy="-4">T</tspan></text><rect x="593.5" y="-5.8" width="13" height="12.6" fill="#0b50a0"/><rect x="618" y="-5.8" width="12.8" height="12.6" fill="#f84a48"/><rect class="c" x="642.3" y="-5.8" width="12.2" height="12.6" fill="#a6cbe4"/><rect class="c" x="659.6" y="-5.8" width="12.2" height="12.6" fill="#cb1c1e"/><rect class="k" x="676.3" y="-5.8" width="26" height="12.6"/><rect class="p" x="712.3" y="-5.8" width="21" height="12.6"/></g>
<g id="r45" transform="translate(0,738.6)"><line class="d" x1="271" x2="277"/><text class="t" x="282" y="4"><tspan class="i">Mycobacterium riyadhense</tspan> DSM 45176<tspan class="u" dy="-4">T</tspan></text><rect x="593.5" y="-5.8" width="13" height="12.6" fill="#12e8d2"/><rect x="618" y="-5.8" width="12.8" height="12.6" fill="#a8f8a0"/><rect class="c" x="642.3" y="-5.8" width="12.2" height="12.6" fill="#c6dbef"/><rect class="c" x="659.6" y="-5.8" width="12.2" height="12.6" fill="#f6684e"/><rect class="k" x="676.3" y="-5.8" width="23.7" height="12.6"/><rect class="p" x="712.3" y="-5.8" width="20.3" height="12.6"/></g>
<g id="r46" transform="translate(0,754.9)"><line class="d" x1="269.5" x2="277"/><text class="t" x="282" y="4">'Mycobacterium marinum' (NZ_PQBM)</text><rect x="593.5" y="-5.8" width="13" height="12.6" fill="#a8f832"/><rect x="618" y="-5.8" width="12.8" height="12.6" fill="#4c3402"/><rect class="c" x="642.3" y="-5.8" width="12.2" height="12.6" fill="#c6dbef"/><rect class="c" x="659.6" y="-5.8" width="12.2" height="12.6" fill="#e8392a"/><rect class="k" x="676.3" y="-5.8" width="23.7" height="12.6"/><rect class="p" x="712.3" y="-5.8" width="22.3" height="12.6"/><use xlink:href="#plus" x="757.5"/></g>
<g id="r47" transform="translate(0,771.1)"><line class="d" x1="269.5" x2="277"/><text class="t" x="282" y="4">'Mycobacterium marinum E11' (NZ_HG917972)</text><rect x="593.5" y="-5.8" width="13" height="12.6" fill="#a8f832"/><rect x="618" y="-5.8" width="12.8" height="12.6" fill="#4c3402"/><rect class="c" x="642.3" y="-5.8" width="12.2" height="12.6" fill="#a6cbe4"/><rect class="c" x="659.6" y="-5.8" width="12.2" height="12.6" fill="#e8392a"/><rect class="k" x="676.3" y="-5.8" width="23.7" height="12.6"/><rect class="p" x="712.3" y="-5.8" width="20.3" height="12.6"/><use xlink:href="#plus" x="757.5"/></g>
<g id="r48" transform="translate(0,787.3)"><line class="d" x1="269.5" x2="277"/><text class="t" x="282" y="4">'Mycobacterium marinum' (NZ_CP025779)</text><rect x="593.5" y="-5.8" width="13" height="12.6" fill="#a8f832"/><rect x="618" y="-5.8" width="12.8" height="12.6" fill="#4c3402"/><rect class="c" x="642.3" y="-5.8" width="12.2" height="12.6" fill="#c6dbef"/><rect class="c" x="659.6" y="-5.8" width="12.2" height="12.6" fill="#e8392a"/><rect class="k" x="676.3" y="-5.8" width="24.7" height="12.6"/><rect class="p" x="712.3" y="-5.8" width="21" height="12.6"/><use xlink:href="#plus" x="757.5"/></g>
<g id="r49" transform="translate(0,803.5)"><line class="d" x1="269.5" x2="277"/><text class="t" x="282" y="4"><tspan class="i">Mycobacterium marinum</tspan> CCUG 20998<tspan class="u" dy="-4">T</tspan></text><rect x="593.5" y="-5.8" width="13" height="12.6" fill="#a8f832"/><rect x="618" y="-5.8" width="12.8" height="12.6" fill="#4c3402"/><rect class="c" x="642.3" y="-5.8" width="12.2" height="12.6" fill="#c6dbef"/><rect class="c" x="659.6" y="-5.8" width="12.2" height="12.6" fill="#e8392a"/><rect class="k" x="676.3" y="-5.8" width="24.7" height="12.6"/><rect class="p" x="712.3" y="-5.8" width="21" height="12.6"/></g>
<g id="r50" transform="translate(0,819.8)"><line class="d" x1="271" x2="277"/><text class="t" x="282" y="4"><tspan class="i">Mycobacterium pseudoshottsii</tspan> JCM 15466<tspan class="u" dy="-4">T</tspan></text><rect x="593.5" y="-5.8" width="13" height="12.6" fill="#a8f832"/><rect x="618" y="-5.8" width="12.8" height="12.6" fill="#4c3402"/><rect class="c" x="642.3" y="-5.8" width="12.2" height="12.6" fill="#c6dbef"/><rect class="c" x="659.6" y="-5.8" width="12.2" height="12.6" fill="#e8392a"/><rect class="k" x="676.3" y="-5.8" width="22.7" height="12.6"/><rect class="p" x="712.3" y="-5.8" width="22.3" height="12.6"/></g>
<g id="r51" transform="translate(0,836)"><line class="d" x1="273" x2="277"/><text class="t" x="282" y="4"><tspan class="i">Mycobacterium aichiense</tspan> NCTC 10820<tspan class="u" dy="-4">T</tspan></text><rect x="593.5" y="-5.8" width="13" height="12.6" fill="#0808a8"/><rect x="618" y="-5.8" width="12.8" height="12.6" fill="#200440"/><rect class="c" x="642.3" y="-5.8" width="12.2" height="12.6" fill="#6eaad9"/><rect class="c" x="659.6" y="-5.8" width="12.2" height="12.6" fill="#f6684e"/><rect class="k" x="676.3" y="-5.8" width="22.7" height="12.6"/><rect class="p" x="712.3" y="-5.8" width="22.3" height="12.6"/></g>
<g id="r52" transform="translate(0,852.2)"><text class="t" x="282" y="4">'Mycobacterium sp. GA-1199' (NZ_LQIX)</text><rect x="593.5" y="-5.8" width="13" height="12.6" fill="#0b4c8a"/><rect x="618" y="-5.8" width="12.8" height="12.6" fill="#0a1a30"/><rect class="c" x="642.3" y="-5.8" width="12.2" height="12.6" fill="#6eaad9"/><rect class="c" x="659.6" y="-5.8" width="12.2" height="12.6" fill="#fb8f70"/><rect class="k" x="676.3" y="-5.8" width="20.3" height="12.6"/><rect class="p" x="712.3" y="-5.8" width="20.3" height="12.6"/><use xlink:href="#plus" x="757.5"/></g>
<g id="r53" transform="translate(0,868.5)"><line class="d" x1="273" x2="277"/><text class="t" x="282" y="4"><tspan class="i">Mycobacterium novocastrense</tspan> JCM 18114<tspan class="u" dy="-4">T</tspan></text><rect x="593.5" y="-5.8" width="13" height="12.6" fill="#f852d8"/><rect x="618" y="-5.8" width="12.8" height="12.6" fill="#f820c2"/><rect class="c" x="642.3" y="-5.8" width="12.2" height="12.6" fill="#6eaad9"/><rect class="c" x="659.6" y="-5.8" width="12.2" height="12.6" fill="#fcb49a"/><rect class="k" x="676.3" y="-5.8" width="23.7" height="12.6"/><rect class="p" x="712.3" y="-5.8" width="24.3" height="12.6"/></g>
<g id="r54" transform="translate(0,884.7)"><text class="t" x="282" y="4"><tspan class="i">Mycobacterium neumannii</tspan> CECT 8766<tspan class="u" dy="-4">T</tspan></text><rect x="593.5" y="-5.8" width="13" height="12.6" fill="#08c840"/><rect x="618" y="-5.8" width="12.8" height="12.6" fill="#08a842"/><rect class="c" x="642.3" y="-5.8" width="12.2" height="12.6" fill="#6eaad9"/><rect class="c" x="659.6" y="-5.8" width="12.2" height="12.6" fill="#fcb49a"/><rect class="k" x="676.3" y="-5.8" width="20.3" height="12.6"/><rect class="p" x="712.3" y="-5.8" width="20.3" height="12.6"/></g>
<g id="r55" transform="translate(0,900.9)"><text class="t" x="282" y="4"><tspan class="i">Mycobacterium lehmannii</tspan> CECT 8763<tspan class="u" dy="-4">T</tspan></text><rect x="593.5" y="-5.8" width="13" height="12.6" fill="#a008b2"/><rect x="618" y="-5.8" width="12.8" height="12.6" fill="#f852f8"/><rect class="c" x="642.3" y="-5.8" width="12.2" height="12.6" fill="#6eaad9"/><rect class="c" x="659.6" y="-5.8" width="12.2" height="12.6" fill="#fcb49a"/><rect class="k" x="676.3" y="-5.8" width="20.3" height="12.6"/><rect class="p" x="712.3" y="-5.8" width="20.3" height="12.6"/></g>
<g id="r56" transform="translate(0,917.2)"><line class="d" x1="266" x2="277"/><text class="t" x="282" y="4"><tspan class="i">Mycobacterium monacense</tspan> DSM 44395<tspan class="u" dy="-4">T</tspan></text><rect x="593.5" y="-5.8" width="13" height="12.6" fill="#e8a008"/><rect x="618" y="-5.8" width="12.8" height="12.6" fill="#a8a80a"/><rect class="c" x="642.3" y="-5.8" width="12.2" height="12.6" fill="#0e4f9a"/><rect class="c" x="659.6" y="-5.8" width="12.2" height="12.6" fill="#f6684e"/><rect class="k" x="676.3" y="-5.8" width="22.7" height="12.6"/><rect class="p" x="712.3" y="-5.8" width="22.3" height="12.6"/></g>
<g id="r57" transform="translate(0,933.4)"><line class="d" x1="266" x2="277"/><text class="t" x="282" y="4"><tspan class="i">Mycobacterium vaccae</tspan> ATCC 15483<tspan class="u" dy="-4">T</tspan></text><rect x="593.5" y="-5.8" width="13" height="12.6" fill="#321200"/><rect x="618" y="-5.8" width="12.8" height="12.6" fill="#023f22"/><rect class="c" x="642.3" y="-5.8" width="12.2" height="12.6" fill="#0e4f9a"/><rect class="c" x="659.6" y="-5.8" width="12.2" height="12.6" fill="#fcb49a"/><rect class="k" x="676.3" y="-5.8" width="23.7" height="12.6"/><rect class="p" x="712.3" y="-5.8" width="22.3" height="12.6"/></g>
<g id="r58" transform="translate(0,949.6)"><line class="d" x1="266" x2="277"/><text class="t" x="282" y="4"><tspan class="i">Mycobacterium parafortuitum</tspan> CCUG 20999<tspan class="u" dy="-4">T</tspan></text><rect x="593.5" y="-5.8" width="13" height="12.6" fill="#0b2a82"/><rect x="618" y="-5.8" width="12.8" height="12.6" fill="#b262f8"/><rect class="c" x="642.3" y="-5.8" width="12.2" height="12.6" fill="#0e4f9a"/><rect class="c" x="659.6" y="-5.8" width="12.2" height="12.6" fill="#fb8f70"/><rect class="k" x="676.3" y="-5.8" width="23.7" height="12.6"/><rect class="p" x="712.3" y="-5.8" width="22.3" height="12.6"/></g>
<g id="r59" transform="translate(0,965.8)"><line class="d" x1="269.5" x2="277"/><text class="t" x="282" y="4"><tspan class="i">Mycobacterium gilvum</tspan> NCTC 10742<tspan class="u" dy="-4">T</tspan></text><rect x="593.5" y="-5.8" width="13" height="12.6" fill="#089052"/><rect x="618" y="-5.8" width="12.8" height="12.6" fill="#b2f892"/><rect class="c" x="642.3" y="-5.8" width="12.2" height="12.6" fill="#2b75bd"/><rect class="c" x="659.6" y="-5.8" width="12.2" height="12.6" fill="#fb8f70"/><rect class="k" x="676.3" y="-5.8" width="24.7" height="12.6"/><rect class="p" x="712.3" y="-5.8" width="23.7" height="12.6"/></g>
<g id="r60" transform="translate(0,982.1)"><line class="d" x1="269.5" x2="277"/><text class="t" x="282" y="4">'Mycobacterium sp. 455mf' (NZ_FOOB)</text><rect x="593.5" y="-5.8" width="13" height="12.6" fill="#f87262"/><rect x="618" y="-5.8" width="12.8" height="12.6" fill="#e8fcd8"/><rect class="c" x="642.3" y="-5.8" width="12.2" height="12.6" fill="#6eaad9"/><rect class="c" x="659.6" y="-5.8" width="12.2" height="12.6" fill="#fddccb"/><rect class="k" x="676.3" y="-5.8" width="26" height="12.6"/><rect class="p" x="712.3" y="-5.8" width="25" height="12.6"/><use xlink:href="#plus" x="757.5"/></g>
<g id="r61" transform="translate(0,998.3)"><line class="d" x1="269.5" x2="277"/><text class="t" x="282" y="4"><tspan class="i">Mycobacterium septicum</tspan> DSM 44393<tspan class="u" dy="-4">T</tspan></text><rect x="593.5" y="-5.8" width="13" height="12.6" fill="#a8c2f8"/><rect x="618" y="-5.8" width="12.8" height="12.6" fill="#2a0a02"/><rect class="c" x="642.3" y="-5.8" width="12.2" height="12.6" fill="#6eaad9"/><rect class="c" x="659.6" y="-5.8" width="12.2" height="12.6" fill="#fddccb"/><rect class="k" x="676.3" y="-5.8" width="26" height="12.6"/><rect class="p" x="712.3" y="-5.8" width="25" height="12.6"/></g>
<g id="r62" transform="translate(0,1014.5)"><line class="d" x1="266" x2="277"/><text class="t" x="282" y="4"><tspan class="i">Mycobacterium boenickei</tspan> CIP 107829<tspan class="u" dy="-4">T</tspan></text><rect x="593.5" y="-5.8" width="13" height="12.6" fill="#f8f052"/><rect x="618" y="-5.8" width="12.8" height="12.6" fill="#72a20a"/><rect class="c" x="642.3" y="-5.8" width="12.2" height="12.6" fill="#6eaad9"/><rect class="c" x="659.6" y="-5.8" width="12.2" height="12.6" fill="#fddccb"/><rect class="k" x="676.3" y="-5.8" width="24.7" height="12.6"/><rect class="p" x="712.3" y="-5.8" width="24.3" height="12.6"/></g>
<g id="r63" transform="translate(0,1030.8)"><line class="d" x1="273" x2="277"/><text class="t" x="282" y="4"><tspan class="i">Mycobacterium neworleansense</tspan> ATCC 49404<tspan class="u" dy="-4">T</tspan></text><rect x="593.5" y="-5.8" width="13" height="12.6" fill="#086a3a"/><rect x="618" y="-5.8" width="12.8" height="12.6" fill="#02521f"/><rect class="c" x="642.3" y="-5.8" width="12.2" height="12.6" fill="#6eaad9"/><rect class="c" x="659.6" y="-5.8" width="12.2" height="12.6" fill="#fddccb"/><rect class="k" x="676.3" y="-5.8" width="23.7" height="12.6"/><rect class="p" x="712.3" y="-5.8" width="23" height="12.6"/></g>
<g id="r64" transform="translate(0,1047)"><text class="t" x="282" y="4"><tspan class="i">Mycobacterium syngnathidarum</tspan> 27335<tspan class="u" dy="-4">T</tspan></text><rect x="593.5" y="-5.8" width="13" height="12.6" fill="#42c80a"/><rect x="618" y="-5.8" width="12.8" height="12.6" fill="#b2f83a"/><rect class="c" x="642.3" y="-5.8" width="12.2" height="12.6" fill="#a6cbe4"/><rect class="c" x="659.6" y="-5.8" width="12.2" height="12.6" fill="#fddccb"/><rect class="k" x="676.3" y="-5.8" width="23.7" height="12.6"/><rect class="p" x="712.3" y="-5.8" width="23" height="12.6"/></g>
<g id="r65" transform="translate(0,1063.2)"><text class="t" x="282" y="4"><tspan class="i">Mycobacterium setense</tspan> DSM 45070<tspan class="u" dy="-4">T</tspan></text><rect x="593.5" y="-5.8" width="13" height="12.6" fill="#f8aae8"/><rect x="618" y="-5.8" width="12.8" height="12.6" fill="#f86262"/><rect class="c" x="642.3" y="-5.8" width="12.2" height="12.6" fill="#6eaad9"/><rect class="c" x="659.6" y="-5.8" width="12.2" height="12.6" fill="#fcb49a"/><rect class="k" x="676.3" y="-5.8" width="23.7" height="12.6"/><rect class="p" x="712.3" y="-5.8" width="11.7" height="12.6"/></g>
<g id="r66" transform="translate(0,1079.5)"><text class="t" x="282" y="4"><tspan class="i">Mycobacterium fortuitum</tspan> ATCC 6841<tspan class="u" dy="-4">T</tspan></text><rect x="593.5" y="-5.8" width="13" height="12.6" fill="#9a0222"/><rect x="618" y="-5.8" width="12.8" height="12.6" fill="#b20272"/><rect class="c" x="642.3" y="-5.8" width="12.2" height="12.6" fill="#6eaad9"/><rect class="c" x="659.6" y="-5.8" width="12.2" height="12.6" fill="#fddccb"/><rect class="k" x="676.3" y="-5.8" width="22.7" height="12.6"/><rect class="p" x="712.3" y="-5.8" width="12" height="12.6"/></g>
<g id="r67" transform="translate(0,1095.7)"><text class="t" x="282" y="4"><tspan class="i">Mycobacterium fortuitum</tspan> subsp. <tspan class="i">acetamidolyticum</tspan> JCM 6368<tspan class="u" dy="-4">T</tspan></text><rect x="593.5" y="-5.8" width="13" height="12.6" fill="#9a0222"/><rect x="618" y="-5.8" width="12.8" height="12.6" fill="#b20272"/><rect class="c" x="642.3" y="-5.8" width="12.2" height="12.6" fill="#a6cbe4"/><rect class="c" x="659.6" y="-5.8" width="12.2" height="12.6" fill="#fddccb"/><rect class="k" x="676.3" y="-5.8" width="27" height="12.6"/><rect class="p" x="712.3" y="-5.8" width="27" height="12.6"/></g>
<g id="r68" transform="translate(0,1111.9)"><line class="d" x1="273" x2="277"/><text class="t" x="282" y="4"><tspan class="i">Mycobacterium peregrinum</tspan> DSM 43271<tspan class="u" dy="-4">T</tspan></text><rect x="593.5" y="-5.8" width="13" height="12.6" fill="#f8a252"/><rect x="618" y="-5.8" width="12.8" height="12.6" fill="#0888c8"/><rect class="c" x="642.3" y="-5.8" width="12.2" height="12.6" fill="#a6cbe4"/><rect class="c" x="659.6" y="-5.8" width="12.2" height="12.6" fill="#fcb49a"/><rect class="k" x="676.3" y="-5.8" width="27" height="12.6"/><rect class="p" x="712.3" y="-5.8" width="26.3" height="12.6"/></g>
<g id="r69" transform="translate(0,1128.1)"><line class="d" x1="253" x2="277"/><text class="t" x="282" y="4"><tspan class="i">Mycobacterium houstonense</tspan> ATCC 49403<tspan class="u" dy="-4">T</tspan></text><rect x="593.5" y="-5.8" width="13" height="12.6" fill="#420212"/><rect x="618" y="-5.8" width="12.8" height="12.6" fill="#f8b2e8"/><rect class="c" x="642.3" y="-5.8" width="12.2" height="12.6" fill="#4a90c8"/><rect class="c" x="659.6" y="-5.8" width="12.2" height="12.6" fill="#fddccb"/><rect class="k" x="676.3" y="-5.8" width="25.3" height="12.6"/><rect class="p" x="712.3" y="-5.8" width="25" height="12.6"/></g>
<g id="r70" transform="translate(0,1144.4)"><line class="d" x1="273" x2="277"/><text class="t" x="282" y="4"><tspan class="i">Mycobacterium mageritense</tspan> CIP 104973<tspan class="u" dy="-4">T</tspan></text><rect x="593.5" y="-5.8" width="13" height="12.6" fill="#129a72"/><rect x="618" y="-5.8" width="12.8" height="12.6" fill="#024a0a"/><rect class="c" x="642.3" y="-5.8" width="12.2" height="12.6" fill="#4a90c8"/><rect class="c" x="659.6" y="-5.8" width="12.2" height="12.6" fill="#fddccb"/><rect class="k" x="676.3" y="-5.8" width="30.3" height="12.6"/><rect class="p" x="712.3" y="-5.8" width="30.3" height="12.6"/></g>
<g id="r71" transform="translate(0,1160.6)"><line class="d" x1="266" x2="277"/><text class="t" x="282" y="4"><tspan class="i">Mycobacterium wolinskyi</tspan> ATCC 700010<tspan class="u" dy="-4">T</tspan></text><rect x="593.5" y="-5.8" width="13" height="12.6" fill="#9a0292"/><rect x="618" y="-5.8" width="12.8" height="12.6" fill="#b20282"/><rect class="c" x="642.3" y="-5.8" width="12.2" height="12.6" fill="#6eaad9"/><rect class="c" x="659.6" y="-5.8" width="12.2" height="12.6" fill="#fddccb"/><rect class="k" x="676.3" y="-5.8" width="28.7" height="12.6"/><rect class="p" x="712.3" y="-5.8" width="27" height="12.6"/></g>
<g id="r72" transform="translate(0,1176.8)"><line class="d" x1="261" x2="277"/><text class="t" x="282" y="4"><tspan class="i">Mycobacterium canariasense</tspan> CCUG 47953<tspan class="u" dy="-4">T</tspan></text><rect x="593.5" y="-5.8" width="13" height="12.6" fill="#f87222"/><rect x="618" y="-5.8" width="12.8" height="12.6" fill="#0a62d8"/><rect class="c" x="642.3" y="-5.8" width="12.2" height="12.6" fill="#2b75bd"/><rect class="c" x="659.6" y="-5.8" width="12.2" height="12.6" fill="#fb8f70"/><rect class="k" x="676.3" y="-5.8" width="26" height="12.6"/><rect class="p" x="712.3" y="-5.8" width="26" height="12.6"/></g>
<g id="r73" transform="translate(0,1193.1)"><line class="d" x1="269.5" x2="277"/><text class="t" x="282" y="4">'Mycobacterium sp. djl-10' (NZ_CP016640)</text><rect x="593.5" y="-5.8" width="13" height="12.6" fill="#0a52e2"/><rect x="618" y="-5.8" width="12.8" height="12.6" fill="#320202"/><rect class="c" x="642.3" y="-5.8" width="12.2" height="12.6" fill="#2b75bd"/><rect class="c" x="659.6" y="-5.8" width="12.2" height="12.6" fill="#fb8f70"/><rect class="k" x="676.3" y="-5.8" width="24.7" height="12.6"/><rect class="p" x="712.3" y="-5.8" width="24.3" height="12.6"/><use xlink:href="#plus" x="757.5"/></g>
<g id="r74" transform="translate(0,1209.3)"><line class="d" x1="269.5" x2="277"/><text class="t" x="282" y="4"><tspan class="i">Mycobacterium tokaiense</tspan> NCTC 10821<tspan class="u" dy="-4">T</tspan></text><rect x="593.5" y="-5.8" width="13" height="12.6" fill="#0a52e2"/><rect x="618" y="-5.8" width="12.8" height="12.6" fill="#020262"/><rect class="c" x="642.3" y="-5.8" width="12.2" height="12.6" fill="#2b75bd"/><rect class="c" x="659.6" y="-5.8" width="12.2" height="12.6" fill="#fb8f70"/><rect class="k" x="676.3" y="-5.8" width="24.7" height="12.6"/><rect class="p" x="712.3" y="-5.8" width="24.3" height="12.6"/></g>
<g id="legend">
<g id="leg1"><rect class="lb" x="33" y="1226.5" width="122" height="18"/><circle class="nc" cx="20.7" cy="1235" r="5.5"/><text class="nt" x="20.7" y="1237.7">1</text><text class="lg" x="35.5" y="1238.7">dDDH species cluster</text><line class="ul" x1="34" y1="1242.2" x2="135" y2="1242.2"/></g>
<g id="leg2"><rect class="lb" x="33" y="1259" width="122" height="19"/><circle class="nc" cx="20.7" cy="1268.3" r="5.5"/><text class="nt" x="20.7" y="1271">2</text><text class="lg" x="36" y="1272">dDDH subspecies cluster</text><line class="ul" x1="35" y1="1276" x2="153" y2="1276"/></g>
<g id="leg3"><rect class="lb" x="195" y="1226.5" width="70" height="52"/><circle class="nc" cx="185" cy="1235" r="5.5"/><text class="nt" x="185" y="1237.7">3</text><text class="lg" x="198" y="1238.7">Percent G+C</text><line class="ul" x1="196" y1="1242.2" x2="263" y2="1242.2"/><rect x="198.3" y="1244.3" width="11.7" height="11.5" fill="#fff" stroke="#ccc" stroke-width="0.7"/><text class="lg" x="212" y="1253.7">Min. (64.0)</text><rect x="198.3" y="1257.7" width="11.7" height="13" fill="#08306b"/><text class="lg" x="212" y="1272">Max. (69.3)</text></g>
<g id="leg4"><rect class="lb" x="315" y="1226.5" width="65" height="52"/><circle class="nc" cx="304" cy="1235" r="5.5"/><text class="nt" x="304" y="1237.7">4</text><text class="lg" x="318" y="1238.7">δ values</text><line class="ul" x1="316" y1="1242.2" x2="378" y2="1242.2"/><rect x="318" y="1244.3" width="12" height="12.4" fill="#fff" stroke="#444" stroke-width="0.8"/><text class="lg" x="332" y="1253.7">Min. (0.1)</text><rect x="317.7" y="1257.7" width="12.6" height="13" fill="#67000d"/><text class="lg" x="332" y="1272">Max. (0.2)</text></g>
<g id="leg5"><rect class="lb" x="416" y="1226.5" width="87" height="52"/><circle class="nc" cx="407.3" cy="1235" r="5.5"/><text class="nt" x="407.3" y="1237.7">5</text><text class="lg" x="419.3" y="1238.7">Sequence length</text><line class="ul" x1="417" y1="1242.2" x2="501" y2="1242.2"/><rect x="418.3" y="1254.3" width="16.7" height="11.4" fill="#000"/><text class="lg" x="436" y="1253.7">Min. (4.2 Mb)</text><text class="lg" x="436" y="1272">Max. (8.0 Mb)</text></g>
<g id="leg6"><rect class="lb" x="530" y="1226.5" width="95" height="52"/><circle class="nc" cx="520" cy="1235" r="5.5"/><text class="nt" x="520" y="1237.7">6</text><text class="lg" x="533.3" y="1238.7">Number of proteins</text><line class="ul" x1="531" y1="1242.2" x2="623" y2="1242.2"/><rect x="533.3" y="1252.3" width="16.7" height="10" fill="#9b7209"/><text class="lg" x="555.7" y="1253.7">Min. (3211)</text><text class="lg" x="555.7" y="1272">Max. (7675)</text></g>
<g id="leg7"><rect class="lb" x="663" y="1226.5" width="69" height="52"/><circle class="nc" cx="650" cy="1235" r="5.5"/><text class="nt" x="650" y="1237.7">7</text><text class="lg" x="666.7" y="1238.7">Kind</text><line class="ul" x1="664" y1="1242.2" x2="730" y2="1242.2"/><rect x="666.5" y="1248.5" width="5" height="5" fill="#fff" stroke="#999" stroke-width="0.6"/><text class="ls" x="677.3" y="1254">Type strain</text><circle cx="669" cy="1261.7" r="2.7" fill="#e8402a"/><text class="ls" x="677.3" y="1264.7">Type species</text><use xlink:href="#plus" transform="translate(669,1272.3) scale(0.5)"/><text class="ls" x="677.3" y="1275.3">User strain</text></g>
</g>
</svg>
